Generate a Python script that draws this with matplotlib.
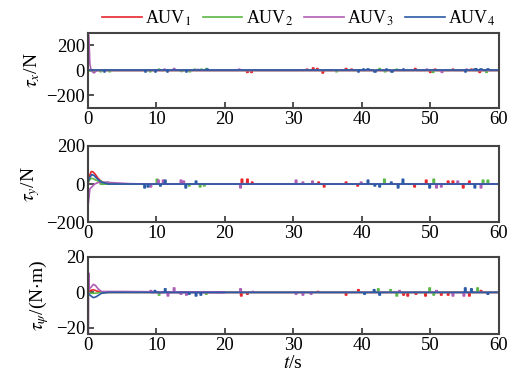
import numpy as np
import matplotlib.pyplot as plt

plt.rcParams['font.family'] = ['Liberation Serif', 'DejaVu Serif']
plt.rcParams['mathtext.fontset'] = 'stix'

t_end = 60
names = ['AUV$_1$', 'AUV$_2$', 'AUV$_3$', 'AUV$_4$']
colors = ['#e8262d', '#5cb947', '#b05db5', '#2b5aa6']

# --- tau_x : start transients (t, value) ---
tx_t = [[0, 0.5, 1.0], [0, 0.5, 0.8, 1.2], [0, 0.05, 0.15, 0.3, 0.5, 0.9, 1.3], [0, 1.0]]
tx_v = [[0, -3, 0], [0, -5, -10, 0], [0, 290, 280, 50, 0, -20, 0], [0, 0]]
# spikes (time, amplitude)
tx_sp = [
    [(23.2, -15), (23.8, -15), (31.9, 10), (32.8, 20), (33.4, 15), (34.2, -20), (37.6, 15),
     (38.4, 10), (47.7, 15), (49.9, -15), (50.6, 10), (53.2, 10), (55.9, 10), (57.1, -15)],
    [(1.8, -10), (3.1, -10), (9.0, -10), (10.3, 10), (13.6, -8), (14.8, -10), (15.5, 10),
     (16.5, 10), (17.2, 15), (36.2, -10), (42.5, 15), (43.3, -10), (45.0, 10), (50.3, -15), (58.1, -15)],
    [(11.1, 10), (12.5, 15), (16.0, 8), (22.0, 10), (31.0, 5), (49.4, 10), (51.6, -15), (55.2, 10)],
    [(2.3, -10), (8.3, -10), (9.8, -15), (11.5, -10), (14.3, -10), (17.4, 15), (39.4, -15), (40.1, 10),
     (40.8, 15), (41.8, -15), (43.5, 10), (44.3, -15), (46.0, 10), (55.0, -15), (56.4, 10), (56.6, 15),
     (57.3, 10), (58.3, 15)],
]

# --- tau_y ---
ty_t = [[0, 0.2, 0.5, 0.7, 1.0, 1.5, 2.0, 2.5, 3.5],
        [0, 0.2, 0.5, 0.8, 1.2, 2.0, 3.0, 4.0],
        [0, 0.05, 0.3, 0.6, 1.0, 1.5, 2.5, 4.0, 6.0, 9.0],
        [0, 0.2, 0.6, 0.9, 1.3, 2.0, 3.0]]
ty_v = [[0, 40, 65, 65, 55, 30, 12, 4, 0],
        [0, 20, 30, 28, 20, 10, 3, 0],
        [0, -110, -25, -15, 0, 8, 10, 6, 2, 0],
        [0, 30, 50, 45, 30, 10, 0]]
ty_sp = [
    [(22.4, 25), (23.2, 25), (23.9, 10), (33.6, 10), (34.4, -15), (37.6, 10), (39.3, -10), (47.6, -15),
     (49.3, 20), (52.5, 15), (53.2, 15), (54.7, -20), (55.6, 15)],
    [(1.8, 15), (2.8, 10), (10.0, 25), (14.7, -10), (16.3, -15), (16.9, -10), (43.2, 25), (50.4, 25),
     (57.6, 20), (58.3, 20)],
    [(9.1, -15), (10.2, 20), (10.9, 20), (13.5, 20), (13.9, 15), (22.2, -20), (30.3, 20), (31.3, 10),
     (32.7, 15), (39.8, 10), (50.8, -20), (51.5, -15), (53.9, 15), (57.3, -20)],
    [(8.2, -20), (8.7, -15), (10.5, -10), (11.2, 20), (14.2, -20), (15.7, 15), (40.8, 20), (41.8, -10),
     (42.5, -15), (44.2, 10), (45.2, -20), (45.9, 25), (49.8, -20), (56.4, -20)],
]

# --- tau_psi ---
tp_t = [[0, 0.3, 0.8, 1.3, 2.0],
        [0, 0.5, 1.0, 2.0],
        [0, 0.03, 0.08, 0.12, 0.2, 0.5, 0.8, 1.1, 1.5, 2.0, 5.0, 20.0],
        [0, 0.3, 0.8, 1.2, 2.0, 3.0]]
tp_v = [[0, 1, 1.5, 0.8, 0],
        [0, -0.5, -0.5, 0],
        [0, -24, -24, 11, 2, 3, 4.5, 4, 2, 0.5, 0.5, 0],
        [0, -1.5, -3, -2.5, -0.5, 0]]
tp_sp = [
    [(22.3, -2), (23.2, -1), (33.5, 0.5), (37.6, -1.5), (39.4, 1.5), (46.0, -1.5), (46.6, -2), (47.8, -1),
     (49.2, -2), (51.5, -1.5), (52.5, -1.5), (55.6, -2), (57.3, 1)],
    [(10.3, -1.5), (17.2, -1), (42.3, 2), (44.1, 1.5), (45.0, -2), (49.8, 2.5), (50.4, -1.5), (56.8, 2.5)],
    [(9.1, 1), (11.6, -2), (12.5, 2.5), (13.5, -1), (14.3, -1.5), (22.2, 2), (24.0, 0.5), (30.3, -1),
     (31.3, -1.5), (32.5, -1), (45.4, 1), (50.8, 1), (53.2, -2), (54.8, -2)],
    [(9.7, 1), (11.2, 2), (14.7, -1), (15.7, -2), (16.4, -1.5), (40.3, -1), (41.7, 1.5), (42.5, -1.5),
     (55.0, 2.5), (55.9, 2), (58.3, -1)],
]


def build(tt, vv, spikes, w=0.2):
    x = list(tt)
    y = list(vv)
    for ts, a in sorted(spikes):
        x += [ts, ts, ts + w, ts + w]
        y += [0, a, a, 0]
    x.append(t_end)
    y.append(0)
    return np.array(x), np.array(y)


fig = plt.figure(figsize=(5.29, 3.83), dpi=100)
boxes = [[0.166, 0.718, 0.777, 0.196],
         [0.166, 0.420, 0.777, 0.199],
         [0.166, 0.128, 0.777, 0.201]]
panels = [(tx_t, tx_v, tx_sp), (ty_t, ty_v, ty_sp), (tp_t, tp_v, tp_sp)]
ylims = [(-300, 300), (-200, 200), (-23.5, 20)]
yticks = [[-200, 0, 200], [-200, 0, 200], [-20, 0, 20]]
ylabels = [r'$\tau_x$/N', r'$\tau_y$/N', r'$\tau_\psi$/(N$\cdot$m)']

for k, (tt, vv, sp) in enumerate(panels):
    ax = fig.add_axes(boxes[k])
    for i in range(4):
        x, y = build(tt[i], vv[i], sp[i])
        ax.plot(x, y, color=colors[i], lw=1.2, label=names[i])
    ax.set_xlim(0, 60)
    ax.set_ylim(*ylims[k])
    ax.set_xticks(range(0, 61, 10))
    ax.set_yticks(yticks[k])
    ax.tick_params(direction='in', labelsize=13.5, length=4, width=1.2, colors='#333333',
                   labelcolor='black', pad=2)
    for s in ax.spines.values():
        s.set_color('#444444')
        s.set_linewidth(1.5)
    ax.set_ylabel(ylabels[k], fontsize=14, labelpad=3)
    if k == 2:
        ax.set_xlabel(r'$t$/s', fontsize=14, labelpad=1)
    if k == 0:
        handles, labels = ax.get_legend_handles_labels()

fig.legend(handles, labels, loc='upper center', bbox_to_anchor=(0.565, 1.02), ncol=4,
           frameon=False, fontsize=13, handlelength=2.2, columnspacing=0.6, handletextpad=0.2)

fig.savefig('out.png', dpi=100)
